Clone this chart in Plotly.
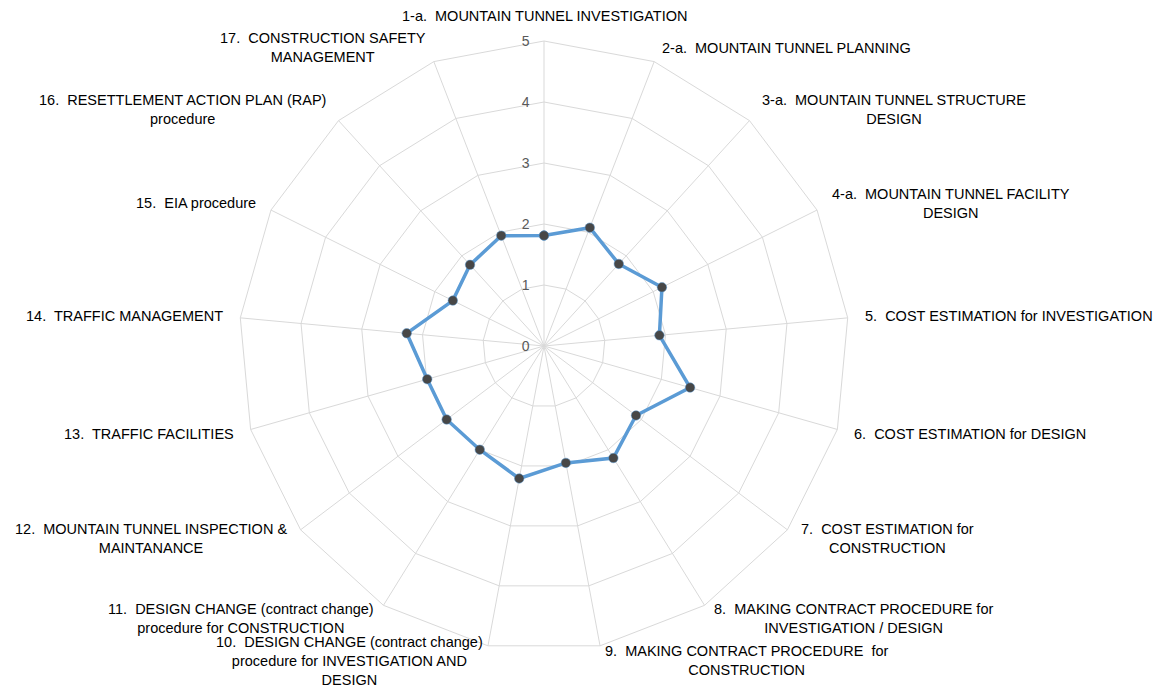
import math
import plotly.graph_objects as go

# Survey categories (clockwise from the top) and the average score for each
categories = [
    "1-a.\u00a0 MOUNTAIN TUNNEL INVESTIGATION",
    "2-a.\u00a0 MOUNTAIN TUNNEL PLANNING",
    "3-a.\u00a0 MOUNTAIN TUNNEL STRUCTURE<br>DESIGN",
    "4-a.\u00a0 MOUNTAIN TUNNEL FACILITY<br>DESIGN",
    "5.\u00a0 COST ESTIMATION for INVESTIGATION",
    "6.\u00a0 COST ESTIMATION for DESIGN",
    "7.\u00a0 COST ESTIMATION for<br>CONSTRUCTION",
    "8.\u00a0 MAKING CONTRACT PROCEDURE for<br>INVESTIGATION / DESIGN",
    "9.\u00a0 MAKING CONTRACT PROCEDURE\u00a0 for<br>CONSTRUCTION",
    "10.\u00a0 DESIGN CHANGE (contract change)<br>procedure for INVESTIGATION AND<br>DESIGN",
    "11.\u00a0 DESIGN CHANGE (contract change)<br>procedure for CONSTRUCTION",
    "12.\u00a0 MOUNTAIN TUNNEL INSPECTION &amp;<br>MAINTANANCE",
    "13.\u00a0 TRAFFIC FACILITIES",
    "14.\u00a0 TRAFFIC MANAGEMENT",
    "15.\u00a0 EIA procedure",
    "16.\u00a0 RESETTLEMENT ACTION PLAN (RAP)<br>procedure",
    "17.\u00a0 CONSTRUCTION SAFETY<br>MANAGEMENT",
]
scores = [1.81, 2.08, 1.82, 2.16, 1.90, 2.49, 1.89, 2.16, 1.95,
          2.21, 2.00, 2.00, 1.99, 2.26, 1.67, 1.80, 1.94]
radial_ticks = [0, 1, 2, 3, 4, 5]

W, H = 1164, 687
cx, cy, R = 544, 346, 305          # polar centre and outer radius in pixels
dom_x = [(cx - R) / W, (cx + R) / W]
dom_y = [1 - (cy + R) / H, 1 - (cy - R) / H]

FONT = "Liberation Sans, Arial, sans-serif"
GRID = "#d9d9d9"

keys = [f"c{i}" for i in range(len(categories))]

fig = go.Figure()
fig.add_trace(go.Scatterpolar(
    theta=keys + keys[:1],
    r=scores + scores[:1],
    mode="lines+markers",
    line=dict(color="#5b9bd5", width=3.5),
    marker=dict(color="#474747", size=9.5, line=dict(color="#5b9bd5", width=0.5)),
    hoverinfo="skip",
    showlegend=False,
))

# Category labels sit just beyond the outer ring, along each spoke
gap = 15
n = len(categories)
annotations = []
for i, label in enumerate(categories):
    ang = 2 * math.pi * i / n
    s, c = math.sin(ang), math.cos(ang)
    px = cx + (R + gap) * s
    py = cy - (R + gap) * c
    if abs(s) < 0.05:
        xa, ya = "center", ("bottom" if c > 0 else "top")
    else:
        xa, ya = ("left" if s > 0 else "right"), "middle"
    annotations.append(dict(
        x=px / W, y=1 - py / H, xref="paper", yref="paper",
        text=label, showarrow=False, xanchor=xa, yanchor=ya, align="center",
        font=dict(family=FONT, size=14.5, color="#000000"),
    ))

fig.update_layout(
    width=W, height=H,
    margin=dict(l=0, r=0, t=0, b=0),
    paper_bgcolor="white",
    plot_bgcolor="white",
    annotations=annotations,
    polar=dict(
        domain=dict(x=dom_x, y=dom_y),
        bgcolor="white",
        gridshape="linear",
        angularaxis=dict(
            type="category",
            categoryarray=keys,
            direction="clockwise",
            rotation=90,
            showticklabels=False,
            ticks="",
            showgrid=True,
            gridcolor=GRID,
            gridwidth=1,
            showline=True,
            linecolor=GRID,
            linewidth=1,
        ),
        radialaxis=dict(
            range=[0, 5],
            tickvals=radial_ticks,
            ticktext=[str(v) for v in radial_ticks],
            angle=90,
            tickangle=90,
            side="counterclockwise",
            showline=False,
            ticks="outside",
            ticklen=9,
            tickcolor="rgba(0,0,0,0)",
            showgrid=True,
            gridcolor=GRID,
            gridwidth=1,
            tickfont=dict(family=FONT, size=14, color="#595959"),
        ),
    ),
)

fig.write_html("out.html")
